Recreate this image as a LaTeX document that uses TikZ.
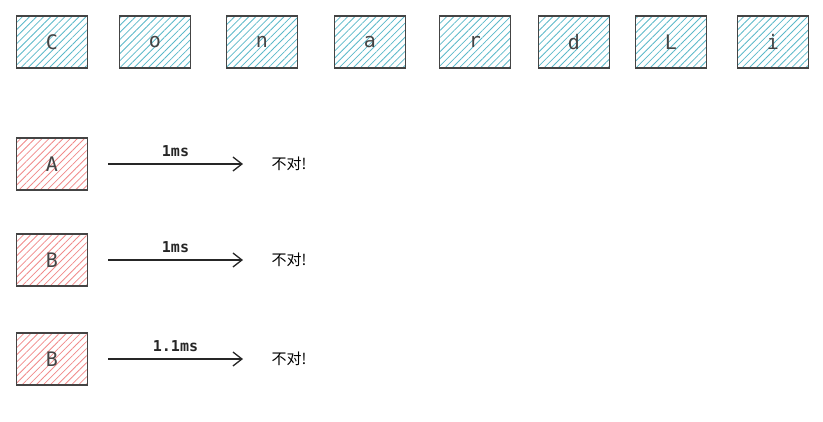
\documentclass[tikz,border=0pt]{standalone}
\usepackage{fontspec}
\setmonofont{DejaVu Sans Mono}
\newfontfamily\cjk{Noto Sans CJK SC}
\usetikzlibrary{patterns.meta,arrows.meta}
\definecolor{bl}{HTML}{5BB8C9}
\definecolor{rd}{HTML}{F08A8A}
\definecolor{ed}{HTML}{444444}
\tikzset{
 cbox/.style={draw=ed,line width=1.4pt,minimum width=71pt,minimum height=52pt,
   pattern={Lines[angle=45,distance=5pt,line width=0.8pt]},pattern color=bl,
   font=\ttfamily\fontsize{20}{20}\selectfont,text=ed},
 rbox/.style={cbox,pattern color=rd},
 arr/.style={-{Straight Barb[length=9pt,width=14pt]},line width=1.3pt,black!85},
 lab/.style={font=\ttfamily\bfseries\fontsize{15}{15}\selectfont},
 cn/.style={font=\cjk\fontsize{15}{15}\selectfont}
}
\begin{document}
\begin{tikzpicture}[x=1pt,y=-1pt]
\useasboundingbox (0,0) rectangle (823,421);
\foreach \n/\x/\t in {c1/52/C,c2/155/o,c3/262/n,c4/370/a,c5/475/r,c6/574/d,c7/671/L,c8/773/i}
  \node[cbox] (\n) at (\x,42) {\t};
\foreach \n/\y/\t/\l in {a/164/A/1ms,b/260/B/1ms,c/359/B/1.1ms}{
  \node[rbox] (\n) at (52,\y) {\t};
  \coordinate (\n s) at (108,\y);
  \coordinate (\n e) at (243,\y);
  \draw[arr] (\n s) -- node[lab,above=3pt] {\l} (\n e);
  \node[cn,anchor=west] (\n t) at (268,\y) {不对!};
}
\end{tikzpicture}
\end{document}
